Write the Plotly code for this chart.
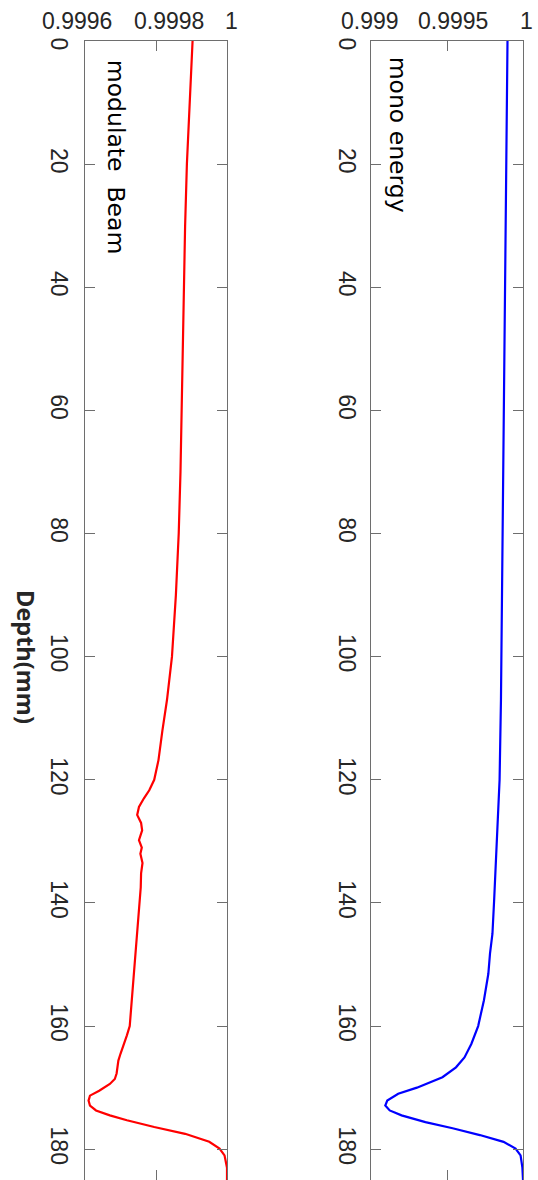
import plotly.graph_objects as go

# ---- data ----
red_depth = [0, 10, 20, 30, 40, 50, 60, 70, 80, 90, 100, 107, 112, 116.8, 120, 121.7, 123, 124.4,
             125.7, 127, 128.2, 129.8, 131, 132, 133.5, 135.2, 137.5, 139.6, 142, 145, 148, 150.4,
             153, 155.8, 158, 160, 161.5, 163.4, 164.5, 165.6, 166.6, 167.7, 168.6, 169.4, 170.5,
             171.3, 172.1, 172.9, 173.7, 174.5, 175.3, 176.4, 177.5, 178.8, 179.9, 181, 183, 185]
red_value = [0.999903, 0.999894, 0.999887, 0.999882, 0.999879, 0.999876, 0.999873, 0.999869,
             0.999864, 0.999856, 0.999845, 0.999831, 0.999818, 0.999807, 0.999795, 0.999781,
             0.999766, 0.999752, 0.999747, 0.999758, 0.999761, 0.999752, 0.999760, 0.999756,
             0.999762, 0.999758, 0.999757, 0.999754, 0.999750, 0.999747, 0.999742, 0.999739,
             0.999735, 0.999732, 0.999729, 0.999726, 0.999718, 0.999708, 0.999700, 0.999694,
             0.999692, 0.999689, 0.999684, 0.999670, 0.999640, 0.999614, 0.999610, 0.999614,
             0.999631, 0.999670, 0.999718, 0.999795, 0.999882, 0.999950, 0.999979, 0.999993,
             1.000000, 1.000000]

blue_depth = [0, 20, 40, 60, 80, 100, 107, 120, 128.7, 135.2, 139.6, 145, 148.2, 151.5, 155.8,
              160, 162.9, 165.1, 166.7, 168.3, 170, 171, 172.1, 172.9, 173.7, 174.5, 175.6,
              176.6, 177.7, 178.8, 179.9, 181, 183, 185]
blue_value = [0.999898, 0.999890, 0.999882, 0.999874, 0.999866, 0.999860, 0.999855, 0.999846,
              0.999832, 0.999821, 0.999810, 0.999799, 0.999783, 0.999772, 0.999743, 0.999705,
              0.999660, 0.999615, 0.999559, 0.999470, 0.999302, 0.999179, 0.999107, 0.999094,
              0.999123, 0.999201, 0.999358, 0.999537, 0.999716, 0.999872, 0.999951, 0.999984,
              0.999996, 1.000000]

left_ticks = [0.9996, 0.9998, 1.0]
left_ticktext = ["0.9996", "0.9998", "1"]
right_ticks = [0.999, 0.9995, 1.0]
right_ticktext = ["0.999", "0.9995", "1"]
depth_ticks = [0, 20, 40, 60, 80, 100, 120, 140, 160, 180]
NB = "\u00a0"
depth_ticktext = [NB * 2 + "0", "20", "40", "60", "80", "100", "120", "140", "160", "180"]

W, H = 538, 1180
TOP = 41

fig = go.Figure()
fig.add_trace(go.Scatter(x=red_value, y=red_depth, mode="lines",
                         line=dict(color="#ff0000", width=2.2), xaxis="x", yaxis="y",
                         showlegend=False))
fig.add_trace(go.Scatter(x=blue_value, y=blue_depth, mode="lines",
                         line=dict(color="#0000ff", width=2.2), xaxis="x2", yaxis="y2",
                         showlegend=False))

FONT = "Liberation Sans, Arial"
tickfont = dict(family=FONT, size=23, color="#262626")
axcommon = dict(showline=True, linecolor="#6e6e6e", linewidth=1, mirror="allticks",
                ticks="inside", ticklen=10, tickcolor="#6e6e6e", showgrid=False,
                zeroline=False, tickfont=tickfont, automargin=False)

# value-axis labels sit slightly off their ticks in the reference; placed as text
# at each tick with a small pixel nudge
label_nudge_left = [-8, 13, 4]
label_nudge_right = [-1, 6, 3]
annotations = []
for ax, vals, texts, nudges in (("x", left_ticks, left_ticktext, label_nudge_left),
                                ("x2", right_ticks, right_ticktext, label_nudge_right)):
    for v, t, n in zip(vals, texts, nudges):
        annotations.append(dict(text=t, x=v, xref=ax, y=1, yref="paper",
                                xanchor="center", yanchor="bottom", xshift=n, yshift=5,
                                showarrow=False, font=tickfont))

annotations += [
    dict(text="modulate  Beam", x=0.999687, y=2.8, xref="x", yref="y",
         xanchor="center", yanchor="top", textangle=90, showarrow=False,
         font=dict(family="DejaVu Sans", size=23.5, color="#000000")),
    dict(text="mono energy", x=0.999174, y=2.3, xref="x2", yref="y2",
         xanchor="center", yanchor="top", textangle=90, showarrow=False,
         font=dict(family="DejaVu Sans", size=23.5, color="#000000")),
    dict(text="<b>Depth(mm)</b>", x=26 / W, y=(H - 657) / (H - TOP), xref="paper",
         yref="paper", xanchor="center", yanchor="middle", textangle=90,
         showarrow=False,
         font=dict(family="Open Sans, Liberation Sans", size=23.5, color="#262626")),
]

fig.update_layout(
    template="none",
    width=W, height=H,
    margin=dict(l=0, r=0, t=TOP, b=0),
    plot_bgcolor="white", paper_bgcolor="white",
    xaxis=dict(domain=[85 / W, 227 / W], range=[0.9996, 1.0], side="top",
               tickvals=left_ticks, showticklabels=False, anchor="y", **axcommon),
    yaxis=dict(domain=[0, 1], range=[185, 0], tickvals=depth_ticks, ticktext=depth_ticktext,
               tickangle=90, anchor="x", ticklabelstandoff=5, **axcommon),
    xaxis2=dict(domain=[371 / W, 523 / W], range=[0.999, 1.0], side="top",
                tickvals=right_ticks, showticklabels=False, anchor="y2", **axcommon),
    yaxis2=dict(domain=[0, 1], range=[185, 0], tickvals=depth_ticks, ticktext=depth_ticktext,
                tickangle=90, anchor="x2", ticklabelstandoff=3, **axcommon),
    annotations=annotations,
)

fig.write_html("out.html", config={"displayModeBar": False},
               post_script="document.body.style.margin='0';"
                           "document.body.style.overflow='hidden';")
